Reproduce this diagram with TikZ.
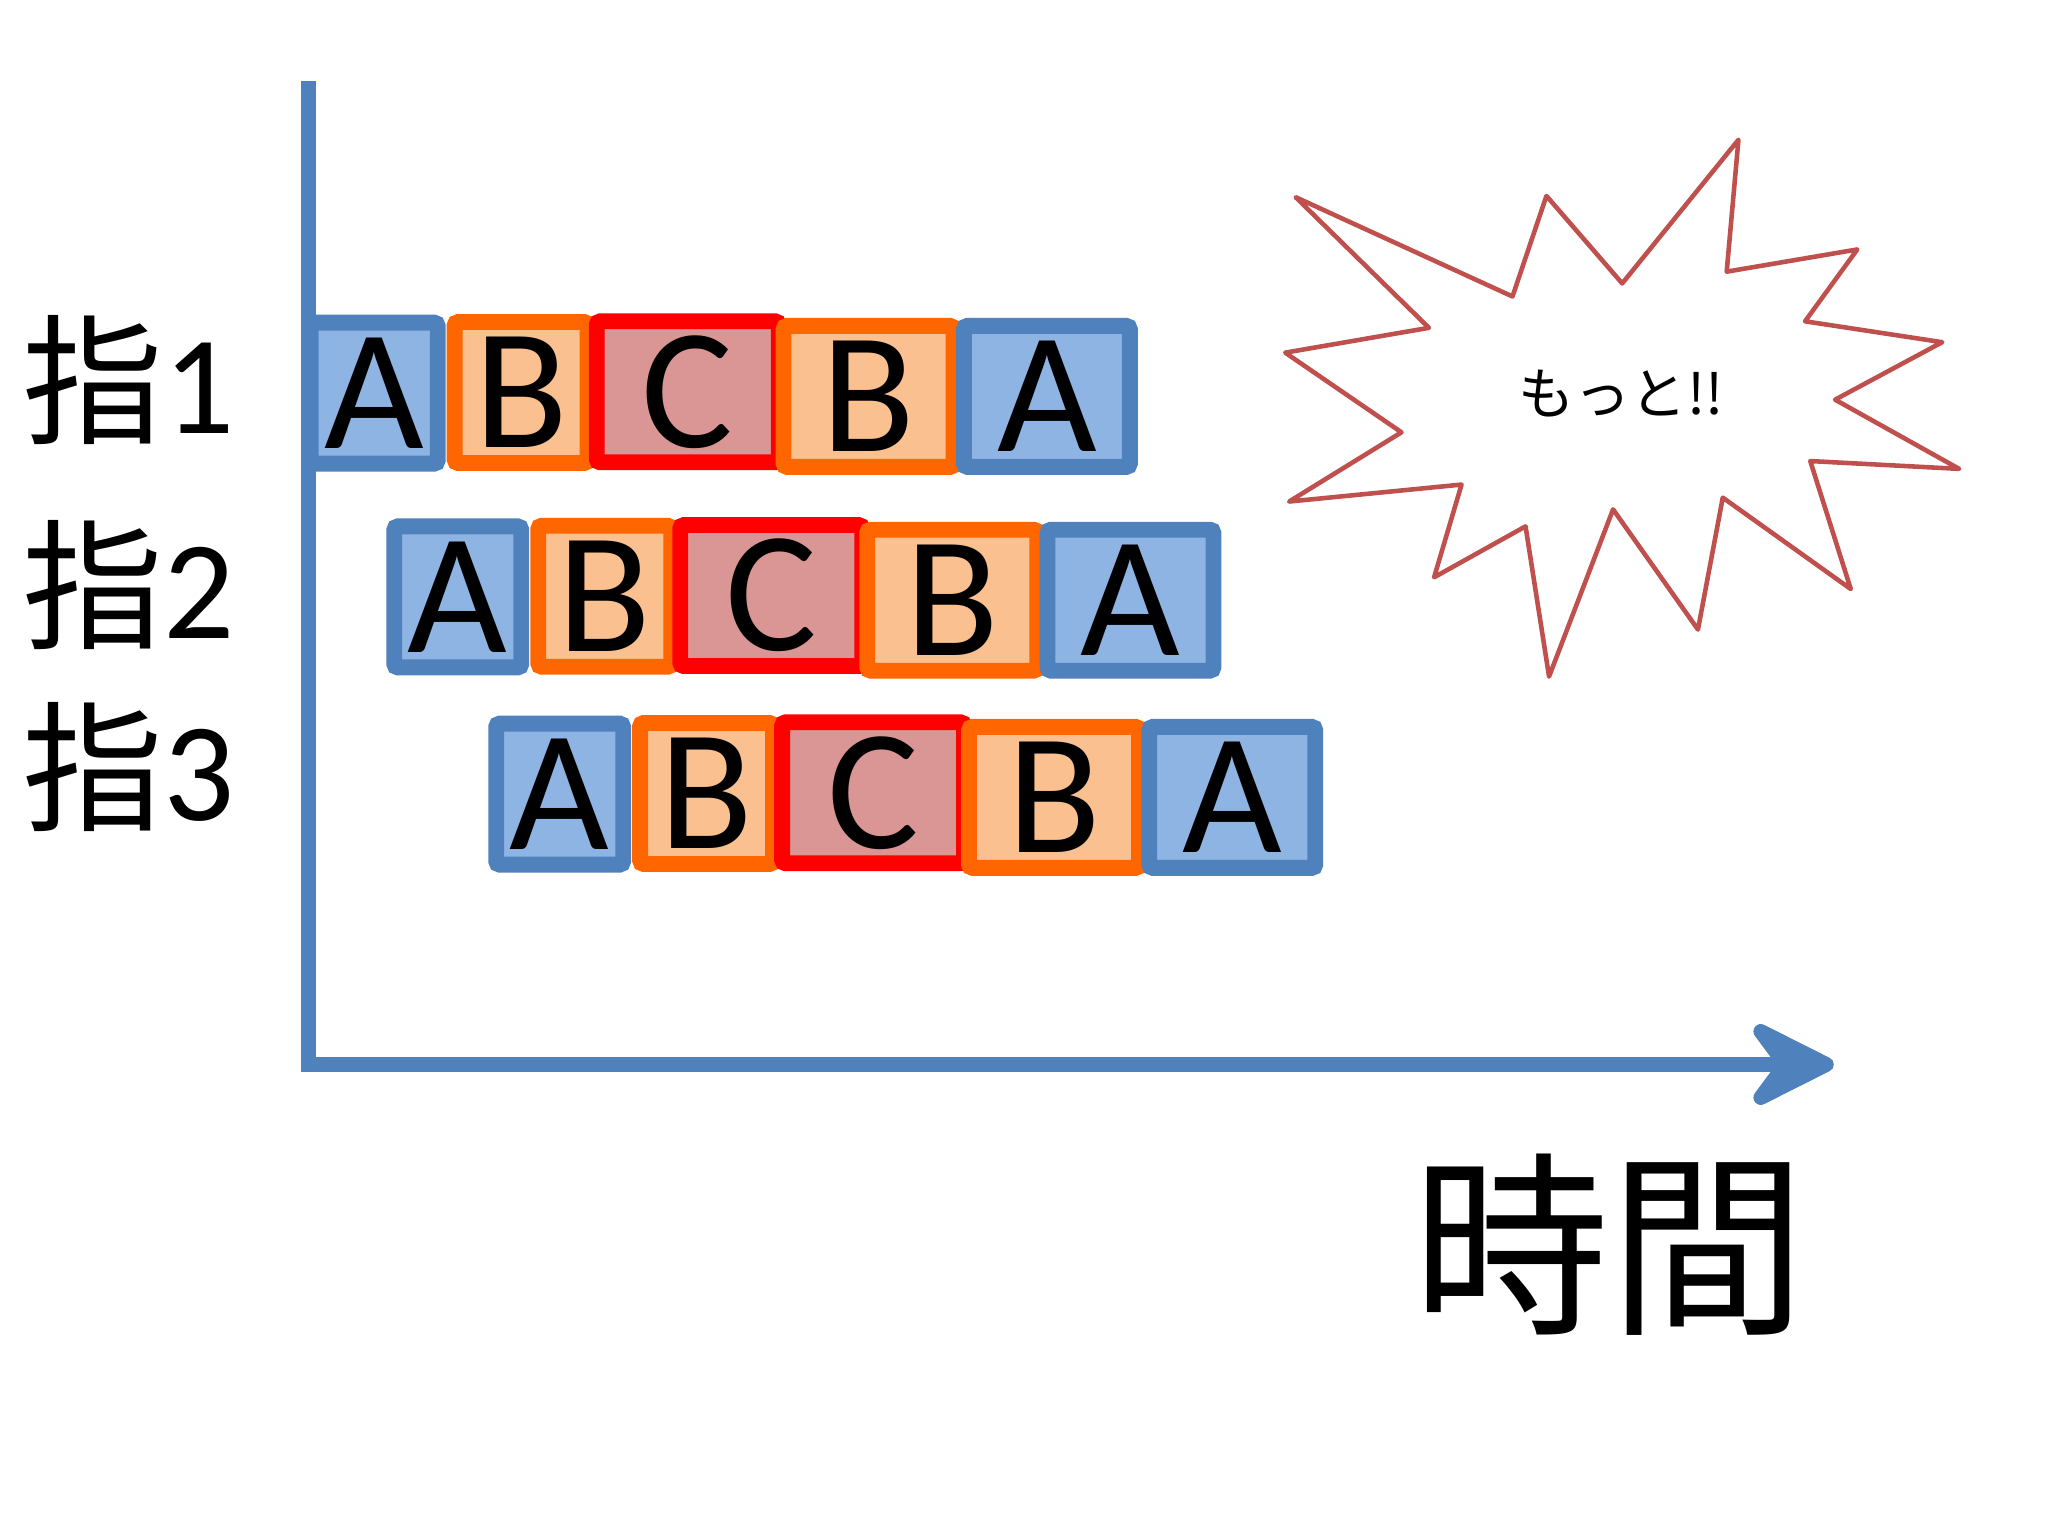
\documentclass[tikz,border=0pt]{standalone}
\usepackage{fontspec}
\setmainfont{Carlito}
\newfontfamily\cjk{Noto Sans CJK JP}
\usepackage{xcolor}
\usetikzlibrary{arrows, arrows.meta}
\usetikzlibrary{positioning}
\definecolor{axisblue}{HTML}{4F81BD}
\definecolor{tileblue}{HTML}{8EB4E3}
\definecolor{tileorange}{HTML}{FF6600}
\definecolor{tilepeach}{HTML}{FAC090}
\definecolor{tilered}{HTML}{FF0000}
\definecolor{tilerose}{HTML}{D99694}
\definecolor{burstred}{HTML}{C0504D}
\tikzset{
  tile/.style={draw, line width=4.5pt, rounded corners=1pt, inner sep=0pt,
    minimum height=1.41cm, font=\fontsize{49}{49}\selectfont},
  tilea/.style={tile, draw=axisblue, fill=tileblue},
  tileb/.style={tile, draw=tileorange, fill=tilepeach},
  tilec/.style={tile, draw=tilered, fill=tilerose},
  axisline/.style={draw=axisblue, line width=4.2pt},
  fingerlabel/.style={anchor=base west, inner sep=0pt, font=\fontsize{40}{40}\selectfont},
  burst/.style={draw=burstred, line width=1.3pt, line join=round}
}
% one row of tiles: #1 prefix, #2 x shift, #3 y shift
\newcommand{\tilerow}[3]{%
  \node[tilea, minimum width=1.27cm] (#1a) at (286.5+#2, 301+#3) {A};
  \node[tileb, minimum width=1.33cm] (#1b) at (399+#2, 300.5+#3) {B};
  \node[tilec, minimum width=1.82cm] (#1c) at (526.5+#2, 300+#3) {C};
  \node[tileb, minimum width=1.70cm] (#1d) at (665+#2, 303.5+#3) {B};
  \node[tilea, minimum width=1.66cm] (#1e) at (801.5+#2, 303.5+#3) {A};
}
\begin{document}
\begin{tikzpicture}[x=0.013061cm, y=-0.013061cm]
  \fill[white] (0,0) rectangle (1568,1176);
  \useasboundingbox (0,0) rectangle (1568,1176);
  %tiles
  \tilerow{r1}{0}{0}
  \tilerow{r2}{64}{156}
  \tilerow{r3}{142}{307}
  %draw axes
  \coordinate (origin) at (236,815);
  \coordinate (ytop) at (236,62);
  \coordinate (xend) at (1404,815);
  \draw[axisline] ([yshift=-2pt]origin) -- (ytop);
  \draw[axisline, -{Stealth[length=30pt, width=30pt, inset=11pt, round]}] (origin) -- (xend);
  \node[anchor=center, font=\fontsize{56}{56}\selectfont\cjk] (time) at (1232,953) {時間};
  %finger labels
  \node[fingerlabel] (f1) at (17,332) {{\cjk 指}1};
  \node[fingerlabel] (f2) at (17,489) {{\cjk 指}2};
  \node[fingerlabel] (f3) at (17,628) {{\cjk 指}3};
  %starburst
  \draw[burst] (992,151) -- (1158,227) -- (1184,150) -- (1242,217) -- (1331,107)
    -- (1322,208) -- (1422,191) -- (1382,246) -- (1487,262) -- (1405,306)
    -- (1500,359) -- (1386,353) -- (1417,451) -- (1319,381) -- (1300,482)
    -- (1235,390) -- (1186,518) -- (1168,403) -- (1098,442) -- (1119,371)
    -- (987,384) -- (1073,331) -- (984,270) -- (1094,251) -- cycle;
  \node[font=\fontsize{16}{16}\selectfont\cjk] (more) at (1241,301) {もっと!!};
\end{tikzpicture}
\end{document}
